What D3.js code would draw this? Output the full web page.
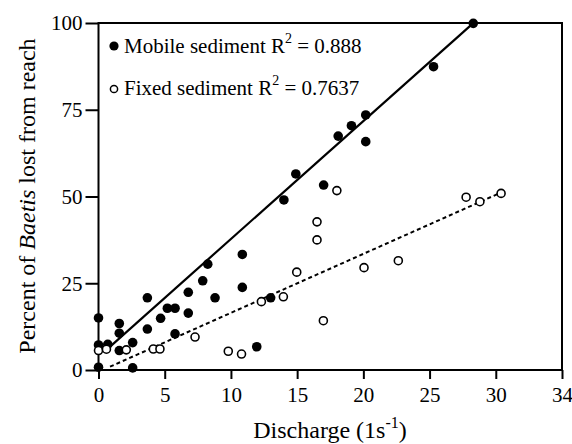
<!DOCTYPE html>
<html>
<head>
    <title></title>
    <meta charset="utf-8">
    <style>
        body { margin: 0; background: #fff; }
        text { font-family: "Liberation Serif", "Times New Roman", serif; fill: #000; }
    </style>
</head>
<body>
<script src="https://d3js.org/d3.v7.min.js"></script>
<script>
    // discharge (l/s) and percent lost
    var mobileX = [0, 0, 0.7, 0, 1.57, 1.57, 1.57, 2.58, 2.58, 3.69, 3.69, 4.69, 5.2, 5.78, 5.78,
        6.78, 6.78, 7.87, 8.25, 8.8, 10.86, 10.86, 11.95, 13.0, 14.0, 14.9, 17.0, 18.1, 19.1,
        20.18, 20.18, 25.3, 28.3];
    var mobileY = [15, 7.2, 7.4, 0.8, 13.4, 10.6, 5.6, 7.9, 0.6, 20.8, 11.8, 14.9, 17.8, 17.8, 10.4,
        22.4, 16.4, 25.7, 30.5, 20.8, 33.3, 23.8, 6.7, 20.8, 49, 56.5, 53.3, 67.4, 70.4,
        73.5, 65.8, 87.4, 99.9];

    var fixedX = [0, 0.6, 2.1, 4.14, 4.64, 7.29, 9.8, 10.8, 12.3, 13.96, 14.97, 16.5, 16.5,
        16.98, 18.0, 20.05, 22.64, 27.76, 28.8, 30.4];
    var fixedY = [5.6, 6.0, 5.8, 6.05, 6.05, 9.5, 5.4, 4.6, 19.7, 21.1, 28.2, 42.7, 37.5,
        14.2, 51.7, 29.5, 31.5, 49.8, 48.5, 50.9];

    // fitted lines: [slope, intercept, x start, x end]
    var mobileFit = [3.40, 3.76, 0.6, 28.3];
    var fixedFit = [1.70, -0.53, 0.87, 30.4];

    var xTicks = [0, 5, 10, 15, 20, 25, 30, 35];
    var xTickLabels = ['0', '5', '10', '15', '20', '25', '30', '34'];
    var yTicks = [0, 25, 50, 75, 100];

    var W = 572, H = 444;
    var pLeft = 98.5, pRight = 562, pTop = 23, pBottom = 370;

    var svg = d3.select('body').append('svg')
        .attr('width', W)
        .attr('height', H);

    var x = d3.scaleLinear().domain([0, 35]).range([pLeft, pRight]);
    var y = d3.scaleLinear().domain([0, 100]).range([pBottom, pTop]);

    // frame
    svg.append('rect')
        .attr('x', pLeft).attr('y', pTop)
        .attr('width', pRight - pLeft).attr('height', pBottom - pTop)
        .style('fill', 'none').style('stroke', '#000').style('stroke-width', 2);

    var xAxis = svg.append('g')
        .attr('transform', 'translate(0,' + pBottom + ')')
        .call(d3.axisBottom(x).tickValues(xTicks).tickSize(9).tickPadding(8)
            .tickFormat(function (d, i) { return xTickLabels[i]; }));
    var yAxis = svg.append('g')
        .attr('transform', 'translate(' + pLeft + ',0)')
        .call(d3.axisLeft(y).tickValues(yTicks).tickSize(13).tickPadding(3));

    svg.selectAll('.domain').remove();
    svg.selectAll('.tick line').style('stroke', '#000').style('stroke-width', 2);
    svg.selectAll('.tick text')
        .style('font-family', '"Liberation Serif", serif')
        .style('font-size', '21px')
        .style('fill', '#000');
    yAxis.selectAll('.tick text').attr('dy', '0.33em');

    // fit lines
    function fitPoints(f) {
        return [[f[2], f[0] * f[2] + f[1]], [f[3], f[0] * f[3] + f[1]]];
    }
    var line = d3.line().x(function (d) { return x(d[0]); }).y(function (d) { return y(d[1]); });

    svg.append('path')
        .attr('d', line(fitPoints(mobileFit)))
        .style('stroke', '#000').style('stroke-width', 2.2).style('fill', 'none');
    svg.append('path')
        .attr('d', line(fitPoints(fixedFit)))
        .style('stroke', '#000').style('stroke-width', 2).style('stroke-dasharray', '4,3')
        .style('fill', 'none');

    // points
    svg.selectAll('circle.mobile')
        .data(mobileX)
        .enter().append('circle')
        .attr('class', 'mobile')
        .attr('cx', function (d) { return x(d); })
        .attr('cy', function (d, i) { return y(mobileY[i]); })
        .attr('r', 4.8)
        .style('fill', '#000');

    svg.selectAll('circle.fixed')
        .data(fixedX)
        .enter().append('circle')
        .attr('class', 'fixed')
        .attr('cx', function (d) { return x(d); })
        .attr('cy', function (d, i) { return y(fixedY[i]); })
        .attr('r', 4)
        .style('fill', '#fff').style('stroke', '#000').style('stroke-width', 1.6);

    // legend
    svg.append('circle').attr('cx', 114).attr('cy', 46).attr('r', 4.6).style('fill', '#000');
    svg.append('circle').attr('cx', 114).attr('cy', 89).attr('r', 3.6)
        .style('fill', '#fff').style('stroke', '#000').style('stroke-width', 1.5);

    var l1 = svg.append('text').attr('x', 124).attr('y', 53).style('font-size', '21px');
    l1.append('tspan').text('Mobile sediment R');
    l1.append('tspan').attr('dy', -10).style('font-size', '14px').text('2');
    l1.append('tspan').attr('dy', 10).text(' = 0.888');

    var l2 = svg.append('text').attr('x', 124).attr('y', 95).style('font-size', '21px');
    l2.append('tspan').text('Fixed sediment R');
    l2.append('tspan').attr('dy', -10).style('font-size', '14px').text('2');
    l2.append('tspan').attr('dy', 10).text(' = 0.7637');

    // axis titles
    var xt = svg.append('text')
        .attr('x', 330).attr('y', 438)
        .attr('text-anchor', 'middle')
        .style('font-size', '24px');
    xt.append('tspan').text('Discharge (1s');
    xt.append('tspan').attr('dy', -10).style('font-size', '16px').text('-1');
    xt.append('tspan').attr('dy', 10).text(')');

    var yt = svg.append('text')
        .attr('transform', 'translate(35,' + 196 + ') rotate(-90)')
        .attr('text-anchor', 'middle')
        .style('font-size', '24px');
    yt.append('tspan').text('Percent of ');
    yt.append('tspan').style('font-style', 'italic').text('Baetis');
    yt.append('tspan').text(' lost from reach');
</script>
</body>
</html>
